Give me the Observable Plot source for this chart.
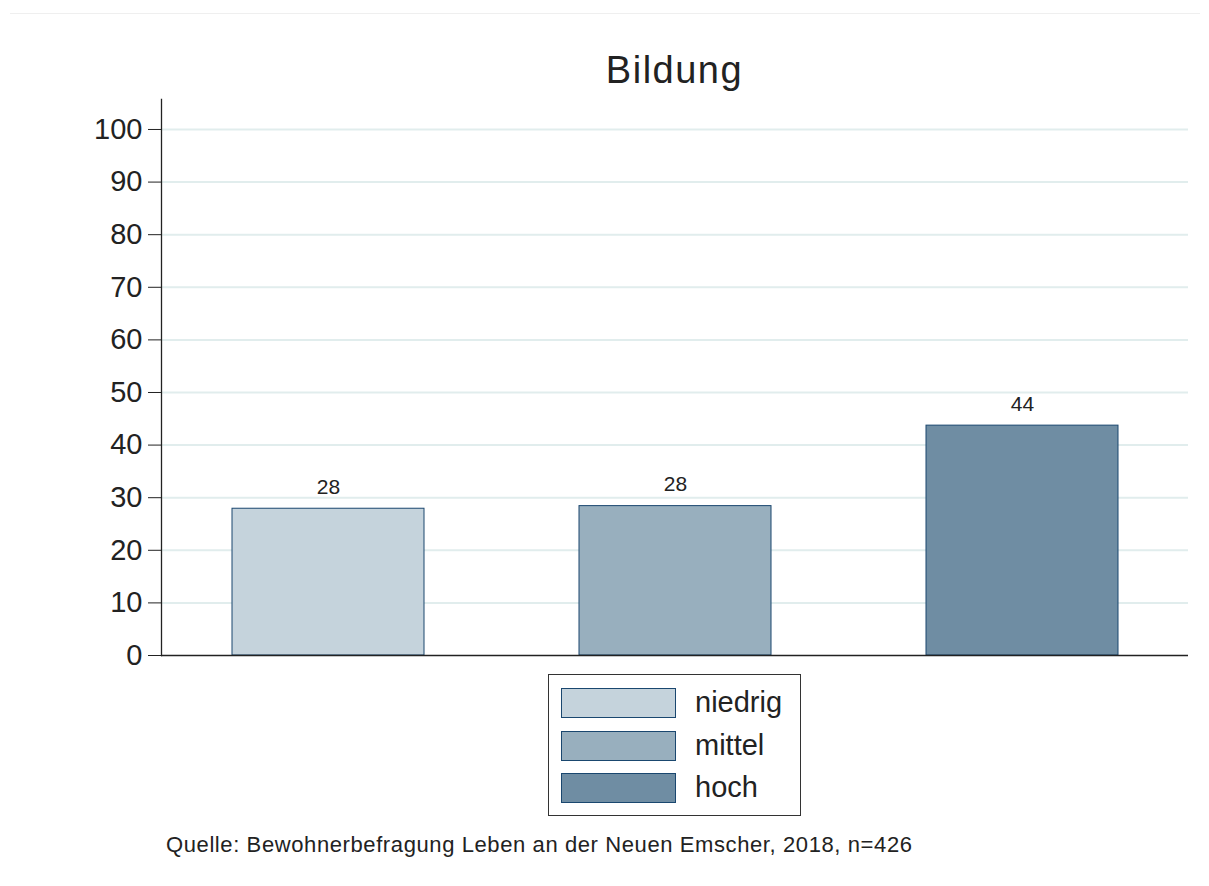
<!DOCTYPE html>
<html>
<head>
<meta charset="utf-8">
<script src="https://cdn.jsdelivr.net/npm/d3@7"></script>
<script src="https://cdn.jsdelivr.net/npm/@observablehq/plot@0.6"></script>
<style>
  html, body { margin: 0; padding: 0; background: #fff; }
  body { font-family: "Liberation Sans", Arial, sans-serif; color: #222; }
  #wrap { position: relative; width: 1209px; height: 886px; overflow: hidden; }
  #topline { position: absolute; left: 10px; right: 9px; top: 13px; border-top: 1px solid #efefef; }
  #title { position: absolute; left: 161px; width: 1027px; top: 48px; text-align: center; font-size: 38px; letter-spacing: 1.5px; line-height: 44px; color: #222; }
  #chart { position: absolute; left: 0; top: 90px; }
  #legend { position: absolute; left: 548px; top: 674px; width: 251px; height: 140px; border: 1px solid #333; box-sizing: content-box; }
  .item { position: absolute; left: 12px; height: 30px; }
  .sw { position: absolute; left: 0; top: 0; width: 113px; height: 28px; border: 1px solid #1a476f; }
  .lab { position: absolute; left: 134px; top: -3px; font-size: 29px; line-height: 34px; white-space: nowrap; color: #222; }
  #caption { position: absolute; left: 166px; top: 832px; font-size: 22px; letter-spacing: 0.6px; line-height: 26px; color: #222; white-space: nowrap; }
</style>
</head>
<body>
<div id="wrap">
  <div id="topline"></div>
  <div id="title"></div>
  <div id="chart"></div>
  <div id="legend"></div>
  <div id="caption"></div>
</div>
<script>
const title = "Bildung";
const categories = ["niedrig", "mittel", "hoch"];
const values = [27.9, 28.4, 43.7];
const colors = ["#c5d3dc", "#98afbe", "#6f8da3"];
const yTicks = [0, 10, 20, 30, 40, 50, 60, 70, 80, 90, 100];
const gridTicks = [10, 20, 30, 40, 50, 60, 70, 80, 90, 100];
const caption = "Quelle: Bewohnerbefragung Leben an der Neuen Emscher, 2018, n=426";

document.getElementById("title").textContent = title;
document.getElementById("caption").textContent = caption;

const data = categories.map((c, i) => ({cat: c, value: values[i], label: String(Math.round(values[i]))}));

const chart = Plot.plot({
  width: 1209,
  height: 584,
  marginTop: 9,
  marginBottom: 19,
  marginLeft: 161,
  marginRight: 21,
  style: {fontFamily: "'Liberation Sans', Arial, sans-serif", color: "#222", background: "transparent", overflow: "visible"},
  x: {domain: categories, type: "band", paddingInner: 0.4475, paddingOuter: 0.2, axis: null},
  y: {domain: [0, 105.7], axis: null},
  color: {domain: categories, range: colors},
  marks: [
    Plot.ruleY(gridTicks, {stroke: "#e1eded", strokeWidth: 2}),
    Plot.barY(data, {x: "cat", y: "value", fill: "cat", stroke: "#1a476f", strokeWidth: 1}),
    Plot.text(data, {x: "cat", y: "value", text: "label", textAnchor: "middle", lineAnchor: "bottom", dy: -15, fontSize: 21, fill: "#222"}),
    Plot.frame({anchor: "left", stroke: "#222", strokeWidth: 1.3}),
    Plot.ruleY([0], {stroke: "#222", strokeWidth: 1.3}),
    Plot.axisY({ticks: yTicks, tickSize: 13, tickPadding: 6, fontSize: 29, stroke: "#222", fill: "#222", label: null})
  ]
});
document.getElementById("chart").appendChild(chart);

const legend = document.getElementById("legend");
const tops = [13, 56, 98];
categories.forEach((c, i) => {
  const item = document.createElement("div");
  item.className = "item";
  item.style.top = tops[i] + "px";
  const sw = document.createElement("div");
  sw.className = "sw";
  sw.style.background = colors[i];
  const lab = document.createElement("div");
  lab.className = "lab";
  lab.textContent = c;
  item.appendChild(sw);
  item.appendChild(lab);
  legend.appendChild(item);
});
</script>
</body>
</html>
